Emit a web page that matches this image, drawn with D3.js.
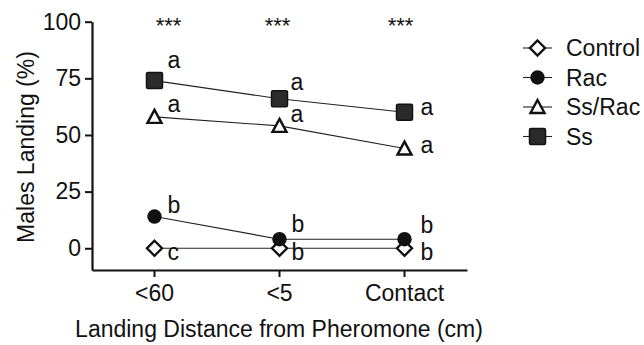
<!DOCTYPE html>
<html lang="en">
<head>
<meta charset="utf-8" />
<title>Males Landing</title>
<script src="https://d3js.org/d3.v7.min.js"></script>
<style>
    body { margin: 0; background: #fff; }
    text { font-family: "Liberation Sans", Arial, Helvetica, sans-serif; fill: #111; }
</style>
</head>
<body>
<script>
// data
const categories = ["<60", "<5", "Contact"];
const seriesNames = ["Control", "Rac", "Ss/Rac", "Ss"];
const controlValues = [0, 0, 0];
const racValues = [14, 4, 4];
const ssRacValues = [58, 54, 44];
const ssValues = [74, 66, 60];
const controlLetters = ["c", "b", "b"];
const racLetters = ["b", "b", "b"];
const ssRacLetters = ["a", "a", "a"];
const ssLetters = ["a", "a", "a"];
const yTicks = [0, 25, 50, 75, 100];
const stars = ["***", "***", "***"];

const series = [
    { name: "Control", values: controlValues, letters: controlLetters, shape: "diamond" },
    { name: "Rac", values: racValues, letters: racLetters, shape: "circle" },
    { name: "Ss/Rac", values: ssRacValues, letters: ssRacLetters, shape: "triangle" },
    { name: "Ss", values: ssValues, letters: ssLetters, shape: "square" }
];

// letter placement relative to marker centre [dx, dy of baseline]
const letterOffset = {
    "Control": [[13, 12], [12, 12], [16, 12]],
    "Rac": [[13, -4], [12, -7], [16, -6]],
    "Ss/Rac": [[13, -5], [11, -4], [16, 4]],
    "Ss": [[13, -13], [11, -9], [16, 3]]
};
const starShift = [14, -2, -4];

const width = 644, height = 345;
const fontSize = 23;

const svg = d3.select("body").append("svg")
    .attr("width", width)
    .attr("height", height);

const x = d3.scaleBand()
    .domain(categories)
    .range([92, 467]);

const y = d3.scaleLinear()
    .domain([-9.6, 100])
    .range([270, 21.7]);

const cx = c => x(c) + x.bandwidth() / 2;

// axes
const yAxis = svg.append("g")
    .attr("transform", "translate(92,0)")
    .call(d3.axisLeft(y).tickValues(yTicks).tickSize(7).tickSizeOuter(0).tickPadding(4));

const xAxis = svg.append("g")
    .attr("transform", "translate(0,270)")
    .call(d3.axisBottom(x).tickSize(7).tickSizeOuter(0).tickPadding(6));

[yAxis, xAxis].forEach(g => {
    g.select(".domain").attr("stroke", "#111").attr("stroke-width", 2.2);
    g.selectAll(".tick line").attr("stroke", "#111").attr("stroke-width", 2);
    g.selectAll(".tick text")
        .attr("font-size", fontSize)
        .attr("font-family", "Liberation Sans, Arial, sans-serif")
        .attr("fill", "#111");
});
xAxis.selectAll(".tick text").attr("dy", "0.78em");

// axis titles
svg.append("text")
    .attr("transform", "translate(34,147) rotate(-90)")
    .attr("text-anchor", "middle")
    .attr("font-size", fontSize)
    .text("Males Landing (%)");

svg.append("text")
    .attr("x", 279)
    .attr("y", 337)
    .attr("text-anchor", "middle")
    .attr("font-size", fontSize)
    .text("Landing Distance from Pheromone (cm)");

// significance stars
svg.selectAll("text.stars")
    .data(stars)
    .enter()
    .append("text")
    .attr("class", "stars")
    .attr("x", (d, i) => cx(categories[i]) + starShift[i])
    .attr("y", 33)
    .attr("text-anchor", "middle")
    .attr("font-size", 22)
    .text(d => d);

// marker drawing
function drawMarker(g, shape) {
    if (shape === "diamond") {
        g.append("path")
            .attr("d", "M0,-7.5L7.5,0L0,7.5L-7.5,0Z")
            .attr("fill", "#fff").attr("stroke", "#111").attr("stroke-width", 2.4);
    } else if (shape === "circle") {
        g.append("circle").attr("r", 7.2).attr("fill", "#111");
    } else if (shape === "triangle") {
        g.append("path")
            .attr("d", "M0,-7L7,6L-7,6Z")
            .attr("fill", "#fff").attr("stroke", "#111").attr("stroke-width", 2.4)
            .attr("stroke-linejoin", "miter");
    } else {
        g.append("rect")
            .attr("x", -8).attr("y", -8).attr("width", 16).attr("height", 16)
            .attr("rx", 1.5)
            .attr("fill", "#2b2b2b").attr("stroke", "#111").attr("stroke-width", 1.5);
    }
}

const line = d3.line()
    .x((d, i) => cx(categories[i]))
    .y(d => y(d));

// lines first
svg.selectAll("path.series")
    .data(series)
    .enter()
    .append("path")
    .attr("class", "series")
    .attr("d", d => line(d.values))
    .attr("fill", "none")
    .attr("stroke", "#222")
    .attr("stroke-width", 1.1);

// markers and letters
series.forEach(s => {
    s.values.forEach((v, i) => {
        const g = svg.append("g")
            .attr("transform", `translate(${cx(categories[i])},${y(v)})`);
        drawMarker(g, s.shape);
        const off = letterOffset[s.name][i];
        svg.append("text")
            .attr("x", cx(categories[i]) + off[0])
            .attr("y", y(v) + off[1])
            .attr("font-size", fontSize)
            .text(s.letters[i]);
    });
});

// legend
const legend = svg.append("g");
series.forEach((s, i) => {
    const ly = 48 + i * 29.5;
    legend.append("line")
        .attr("x1", 523).attr("x2", 552)
        .attr("y1", ly).attr("y2", ly)
        .attr("stroke", "#222").attr("stroke-width", 1.1);
    const g = legend.append("g").attr("transform", `translate(537.5,${ly})`);
    drawMarker(g, s.shape);
    legend.append("text")
        .attr("x", 566)
        .attr("y", ly)
        .attr("dy", "0.35em")
        .attr("font-size", fontSize)
        .text(s.name);
});
</script>
</body>
</html>
